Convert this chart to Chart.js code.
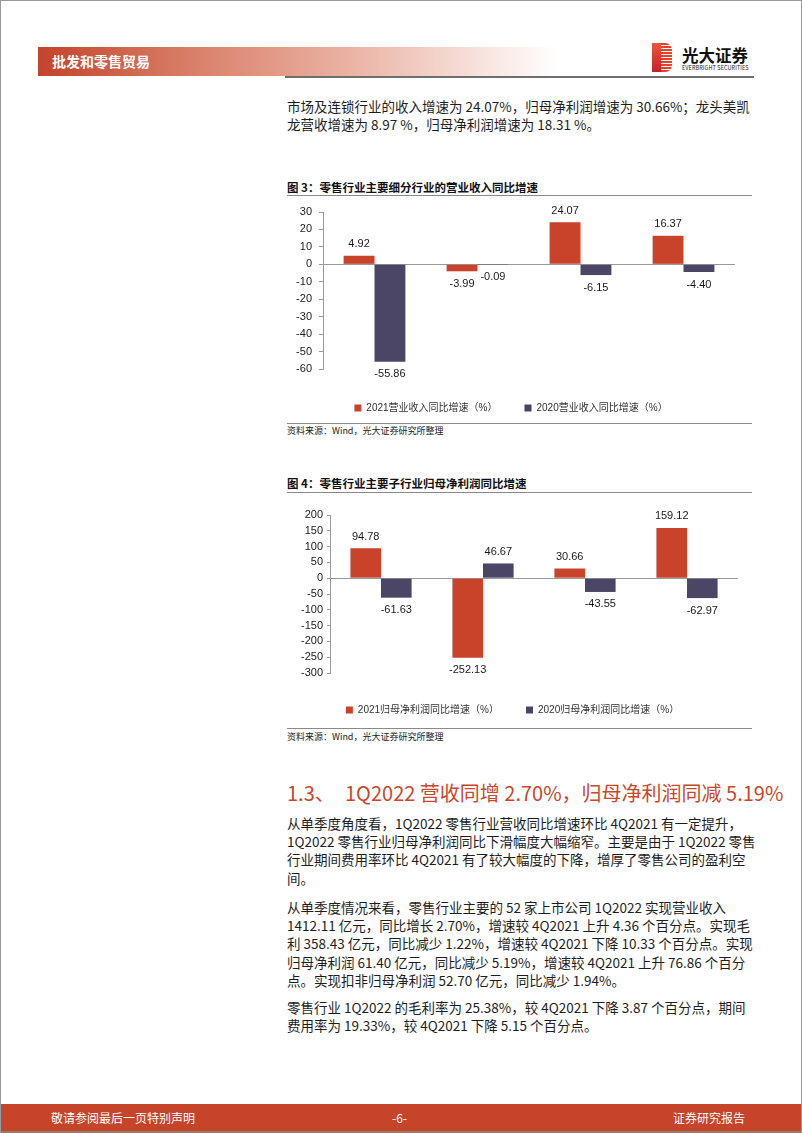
<!DOCTYPE html>
<html><head><meta charset="utf-8">
<script src="https://cdn.jsdelivr.net/npm/chart.js@4.4.1/dist/chart.umd.min.js"></script>
<style>
html,body{margin:0;padding:0;background:#fff;}
#page{position:relative;width:802px;height:1133px;overflow:hidden;font-family:"Noto Sans CJK SC","Noto Sans",sans-serif;color:#222;}
.abs{position:absolute;white-space:nowrap;}
.ln{position:absolute;left:287px;font-size:13.5px;line-height:18px;height:18px;white-space:nowrap;color:#1e1e1e;}
.j{text-align:justify;text-align-last:justify;}
.rule{position:absolute;left:287px;width:465px;height:1px;background:#8a8a8a;}
.ctitle{position:absolute;left:287px;font-size:11.5px;font-weight:700;line-height:14px;color:#111;white-space:nowrap;}
.src{position:absolute;left:287px;font-size:9px;line-height:11px;color:#222;white-space:nowrap;}
canvas{position:absolute;left:287px;}
</style></head><body>
<div id="page">
  <div class="abs" style="left:0;top:0;width:802px;height:1133px;box-sizing:border-box;border:1px solid #9a9a9a;"></div>
  <!-- header -->
  <div class="abs" style="left:38px;top:47px;width:520px;height:29px;background:linear-gradient(to right,#c4432b 0%,#d9806a 30%,#eab3a4 60%,rgba(255,255,255,0) 100%);"></div>
  <div class="abs" style="left:52px;top:52px;font-size:14px;line-height:19px;font-weight:700;color:#fff;">批发和零售贸易</div>
  <div class="abs" style="left:285px;top:76px;width:469px;height:2px;background:#6e6e6e;"></div>
  <div class="abs" style="left:652px;top:43px;width:20px;height:29px;border-radius:0 7px 7px 0;background:repeating-linear-gradient(to bottom,#e2412d 0px,#e2412d 2px,#fff 2px,#fff 3px);"></div>
  <div class="abs" style="left:652px;top:43px;width:9px;height:29px;background:linear-gradient(to bottom,#f0553a,#c81e2a);"></div>
  <div class="abs" style="left:682px;top:45px;font-size:16.5px;line-height:20px;font-weight:700;color:#111;">光大证券</div>
  <div class="abs" style="left:682px;top:65px;font-size:5.5px;line-height:7px;color:#222;letter-spacing:0.1px;">EVERBRIGHT SECURITIES</div>

  <!-- top paragraph -->
  <div class="ln j" style="top:97px;width:460px;">市场及连锁行业的收入增速为 24.07%，归母净利润增速为 30.66%；龙头美凯</div>
  <div class="ln" style="top:115px;">龙营收增速为 8.97 %，归母净利润增速为 18.31 %。</div>

  <!-- chart 1 -->
  <div class="ctitle" style="top:180px;">图 3：零售行业主要细分行业的营业收入同比增速</div>
  <div class="rule" style="top:195px;"></div>
  <canvas id="c1" width="465" height="225" style="top:198px;"></canvas>
  <div class="rule" style="top:423px;"></div>
  <div class="src" style="top:425px;">资料来源：Wind，光大证券研究所整理</div>

  <!-- chart 2 -->
  <div class="ctitle" style="top:476px;">图 4：零售行业主要子行业归母净利润同比增速</div>
  <div class="rule" style="top:492px;"></div>
  <canvas id="c2" width="465" height="230" style="top:495px;"></canvas>
  <div class="rule" style="top:728px;"></div>
  <div class="src" style="top:731px;">资料来源：Wind，光大证券研究所整理</div>

  <!-- section heading -->
  <div class="abs" style="left:287px;top:780px;font-size:20px;line-height:26px;color:#c9472b;">1.3、</div>
  <div class="abs j" style="left:345px;top:780px;width:407px;font-size:20px;line-height:26px;color:#c9472b;">1Q2022 营收同增 2.70%，归母净利润同减 5.19%</div>

  <div class="ln j" style="top:814px;width:455px;">从单季度角度看，1Q2022 零售行业营收同比增速环比 4Q2021 有一定提升，</div>
  <div class="ln j" style="top:832px;width:463px;">1Q2022 零售行业归母净利润同比下滑幅度大幅缩窄。主要是由于 1Q2022 零售</div>
  <div class="ln j" style="top:850px;width:456px;">行业期间费用率环比 4Q2021 有了较大幅度的下降，增厚了零售公司的盈利空</div>
  <div class="ln" style="top:869px;">间。</div>

  <div class="ln j" style="top:898px;width:438px;">从单季度情况来看，零售行业主要的 52 家上市公司 1Q2022 实现营业收入</div>
  <div class="ln j" style="top:916px;width:463px;">1412.11 亿元，同比增长 2.70%，增速较 4Q2021 上升 4.36 个百分点。实现毛</div>
  <div class="ln j" style="top:934px;width:463px;">利 358.43 亿元，同比减少 1.22%，增速较 4Q2021 下降 10.33 个百分点。实现</div>
  <div class="ln j" style="top:953px;width:456px;">归母净利润 61.40 亿元，同比减少 5.19%，增速较 4Q2021 上升 76.86 个百分</div>
  <div class="ln" style="top:971px;">点。实现扣非归母净利润 52.70 亿元，同比减少 1.94%。</div>

  <div class="ln j" style="top:998px;width:448px;">零售行业 1Q2022 的毛利率为 25.38%，较 4Q2021 下降 3.87 个百分点，期间</div>
  <div class="ln" style="top:1016px;">费用率为 19.33%，较 4Q2021 下降 5.15 个百分点。</div>

  <!-- footer -->
  <div class="abs" style="left:1px;top:1104px;width:800px;height:27px;background:#c6442a;"></div>
  <div class="abs" style="left:1px;top:1131px;width:800px;height:2px;background:#9b7a6a;"></div>
  <div class="abs" style="left:51px;top:1110px;font-size:12px;line-height:16px;color:#fff;">敬请参阅最后一页特别声明</div>
  <div class="abs" style="left:392px;top:1110px;font-size:12px;line-height:16px;color:#fff;">-6-</div>
  <div class="abs" style="left:673px;top:1110px;font-size:12px;line-height:16px;color:#fff;">证券研究报告</div>
</div>
<script>
// ---- data ----
const categories = ['百货', '超市', '专业市场及连锁', '黄金珠宝'];
const revenue2021 = [4.92, -3.99, 24.07, 16.37];
const revenue2020 = [-55.86, -0.09, -6.15, -4.40];
const profit2021 = [94.78, -252.13, 30.66, 159.12];
const profit2020 = [-61.63, 46.67, -43.55, -62.97];
const revenueLegend = ['2021营业收入同比增速（%）', '2020营业收入同比增速（%）'];
const profitLegend = ['2021归母净利润同比增速（%）', '2020归母净利润同比增速（%）'];
const revenueAxis = [-60, 30, 10];   // min, max, step
const profitAxis = [-300, 200, 50];

const RED = '#c9432a';
const PURPLE = '#4b4666';
const AXIS = '#9a9a9a';
const LATIN = '"Liberation Sans", "Noto Sans CJK SC", sans-serif';

const valueLabels = {
  id: 'valueLabels',
  afterDatasetsDraw(chart, args, opts) {
    const ctx = chart.ctx;
    ctx.save();
    ctx.font = '11px ' + LATIN;
    ctx.fillStyle = '#1a1a1a';
    ctx.textAlign = 'center';
    ctx.textBaseline = 'middle';
    chart.data.datasets.forEach((ds, i) => {
      chart.getDatasetMeta(i).data.forEach((el, j) => {
        const v = ds.data[j];
        const y = v >= 0 ? el.y - opts.above : el.y + opts.below;
        ctx.fillText(v.toFixed(2), el.x, y);
      });
    });
    ctx.restore();
  }
};

function makeChart(id, s21, s20, legend, axis, lay) {
  return new Chart(document.getElementById(id), {
    type: 'bar',
    data: {
      labels: categories,
      datasets: [
        { label: legend[0], data: s21, backgroundColor: RED, borderWidth: 0, categoryPercentage: 0.6, barPercentage: 1 },
        { label: legend[1], data: s20, backgroundColor: PURPLE, borderWidth: 0, categoryPercentage: 0.6, barPercentage: 1 }
      ]
    },
    options: {
      responsive: false,
      animation: false,
      devicePixelRatio: 1,
      layout: { padding: { top: lay.top, right: lay.right, left: 0, bottom: 0 } },
      plugins: {
        legend: {
          position: 'bottom',
          labels: { boxWidth: 7, boxHeight: 7, padding: 27, color: '#333', font: { size: 10, family: LATIN } }
        },
        tooltip: { enabled: false },
        valueLabels: { above: 11.5, below: 12.5 }
      },
      scales: {
        x: {
          grid: { display: false, drawTicks: false },
          border: { display: false },
          ticks: { padding: lay.xPad, color: '#333', font: { size: 10, family: '"Noto Sans CJK SC", sans-serif' } },
          afterFit(s) { s.height = lay.xH; }
        },
        y: {
          min: axis[0], max: axis[1],
          ticks: { stepSize: axis[2], autoSkip: false, padding: lay.yPad, color: '#222', font: { size: 11, family: LATIN } },
          grid: {
            color: c => (c.tick && c.tick.value === 0) ? AXIS : 'rgba(0,0,0,0)',
            tickColor: AXIS, tickLength: lay.tl
          },
          border: { display: true, color: AXIS },
          afterFit(s) { s.width = lay.yW; }
        }
      }
    },
    plugins: [valueLabels]
  });
}

makeChart('c1', revenue2021, revenue2020, revenueLegend, revenueAxis,
  { top: 14, right: 17, xPad: 7, xH: 7, yPad: 7, tl: 4, yW: 36 });
makeChart('c2', profit2021, profit2020, profitLegend, profitAxis,
  { top: 20, right: 14, xPad: 8, xH: 5, yPad: 4, tl: 3, yW: 43 });
</script>
</body></html>
